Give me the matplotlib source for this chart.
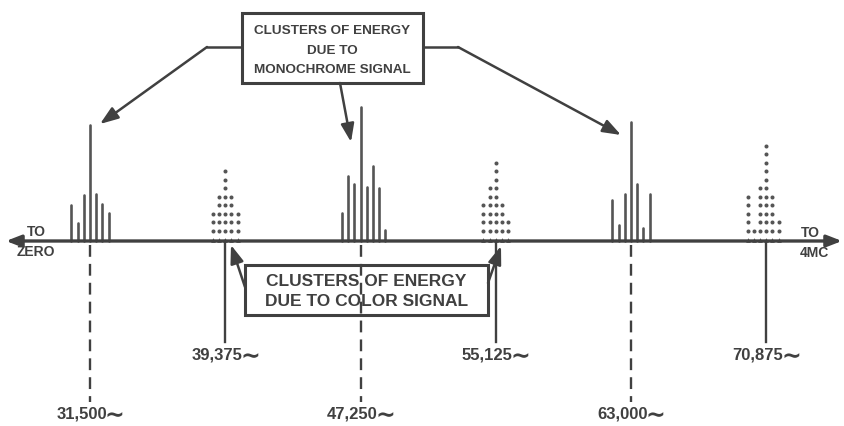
import matplotlib
matplotlib.use("Agg")
import matplotlib.pyplot as plt
from matplotlib.patches import Rectangle

# --- spectrum data -------------------------------------------------------
# Monochrome energy clusters at harmonics of the line frequency
mono_centers = [31500, 47250, 63000]
mono_offsets = [[-3, -2, -1, 0, 1, 2, 3],
                [-3, -2, -1, 0, 1, 2, 3, 4],
                [-3, -2, -1, 0, 1, 2, 3]]
mono_heights = [[36, 18, 46, 116, 47, 37, 28],
                [28, 65, 57, 134, 54, 75, 53, 11],
                [41, 16, 47, 119, 57, 13, 47]]

# Colour energy clusters interleaved half-way between them
color_centers = [39375, 55125, 70875]
color_offsets = [[-2, -1, 0, 1, 2],
                 [-2, -1, 0, 1, 2],
                 [-3, -2, -1, 0, 1, 2]]
color_dots = [[3, 5, 8, 5, 3],
              [4, 6, 9, 4, 2],
              [5, 1, 6, 11, 5, 2]]

mono_labels = ["31,500", "47,250", "63,000"]
color_labels = ["39,375", "55,125", "70,875"]

box_top_lines = ["CLUSTERS OF ENERGY", "DUE TO", "MONOCHROME SIGNAL"]
box_bottom_lines = ["CLUSTERS OF ENERGY", "DUE TO COLOR SIGNAL"]

# --- drawing parameters ---------------------------------------------------
W, H = 844, 426
SIDEBAND_STEP = 360          # Hz between drawn sideband components
DOT_STEP = 8.5               # vertical spacing of the dotted columns
DOT_BASE = 10.5
INK = "#404040"
MARK = "#555555"
FONT = ["Liberation Sans", "DejaVu Sans"]

fig = plt.figure(figsize=(W / 100, H / 100), dpi=100)
ax = fig.add_axes([0, 0, 1, 1])
ax.set_xlim(26260, 75401)
ax.set_ylim(-185, 241)
ax.axis("off")


def P(x, y):
    """Layout position in pixels (from top-left) to axes fraction."""
    return (x / W, 1 - y / H)


def freq_label(f, y, text):
    """Frequency caption with a cycle sign after the digits."""
    num = ax.annotate(text, xy=(f, y), xytext=(-6, 0), textcoords="offset points",
                      ha="center", va="center", fontsize=12,
                      fontweight="bold", color=INK, family=FONT)
    ax.annotate("\u223c", xy=(1, 0.42), xycoords=num, xytext=(-1.5, 0),
                textcoords="offset points", ha="left", va="center",
                fontsize=17, fontweight="bold", color=INK, family=["DejaVu Sans"])


# frequency axis with arrows at both ends
ax.annotate("", xy=P(6, 241), xytext=P(842, 241), xycoords="axes fraction",
            arrowprops=dict(arrowstyle="<|-|>,head_length=0.9,head_width=0.35",
                            color=INK, lw=2.4, shrinkA=0, shrinkB=0))

# monochrome clusters: solid spectral lines
for c, offs, hts in zip(mono_centers, mono_offsets, mono_heights):
    for o, h in zip(offs, hts):
        f = c + o * SIDEBAND_STEP
        ax.plot([f, f], [0, h], color=MARK, lw=1.9, solid_capstyle="round")

# colour clusters: dotted columns
for c, offs, counts in zip(color_centers, color_offsets, color_dots):
    for o, n in zip(offs, counts):
        f = c + o * SIDEBAND_STEP
        ys = [DOT_BASE + k * DOT_STEP for k in range(n)]
        ax.plot([f] * n, ys, "o", color=MARK, ms=2.9, mec="none")
        ax.plot([f], [1.5], "^", color=MARK, ms=3.4, mec="none")

# frequency markers below the axis
for c, lab in zip(mono_centers, mono_labels):
    ax.plot([c, c], [-4, -161], color=INK, lw=1.7, dashes=(5, 3))
    freq_label(c, -173, lab)
for c, lab in zip(color_centers, color_labels):
    ax.plot([c, c], [0, -101], color=INK, lw=1.7)
    freq_label(c, -114, lab)

# axis end captions
for txt, x, y in [("TO", 36, 232), ("ZERO", 36, 252), ("TO", 810, 233), ("4MC", 814, 253)]:
    ax.text(*P(x, y), txt, transform=ax.transAxes, ha="center", va="center",
            fontsize=10, fontweight="bold", color=INK, family=FONT)

# upper caption box
x0, y0, x1, y1 = 242, 13, 423, 83
ax.add_patch(Rectangle(P(x0, y1), (x1 - x0) / W, (y1 - y0) / H, transform=ax.transAxes,
                       fill=False, ec=INK, lw=2.2))
for i, line in enumerate(box_top_lines):
    ax.text(*P((x0 + x1) / 2, 31 + 19.5 * i), line, transform=ax.transAxes,
            ha="center", va="center", fontsize=9.7, fontweight="bold", color=INK, family=FONT)

# lower caption box
x0, y0, x1, y1 = 245, 265, 488, 315
ax.add_patch(Rectangle(P(x0, y1), (x1 - x0) / W, (y1 - y0) / H, transform=ax.transAxes,
                       fill=False, ec=INK, lw=2.2))
for i, line in enumerate(box_bottom_lines):
    ax.text(*P((x0 + x1) / 2, 282 + 20 * i), line, transform=ax.transAxes,
            ha="center", va="center", fontsize=12.5, fontweight="bold", color=INK, family=FONT)

arrow_kw = dict(arrowstyle="-|>,head_length=1.1,head_width=0.4", color=INK, lw=1.8,
                shrinkA=0, shrinkB=0)


def pointer(path):
    for a, b in zip(path[:-2], path[1:-1]):
        ax.plot([a[0] / W, b[0] / W], [1 - a[1] / H, 1 - b[1] / H], color=INK, lw=1.8,
                transform=ax.transAxes, solid_capstyle="round")
    ax.annotate("", xy=P(*path[-1]), xytext=P(*path[-2]), xycoords="axes fraction",
                arrowprops=arrow_kw)


pointer([(242, 47), (207, 47), (100, 124)])
pointer([(423, 47), (458, 47), (621, 135)])
pointer([(340, 83), (351, 142)])
pointer([(245, 287), (231, 245)])
pointer([(488, 283), (501, 246)])

fig.savefig("out.png", dpi=100, facecolor="white")
